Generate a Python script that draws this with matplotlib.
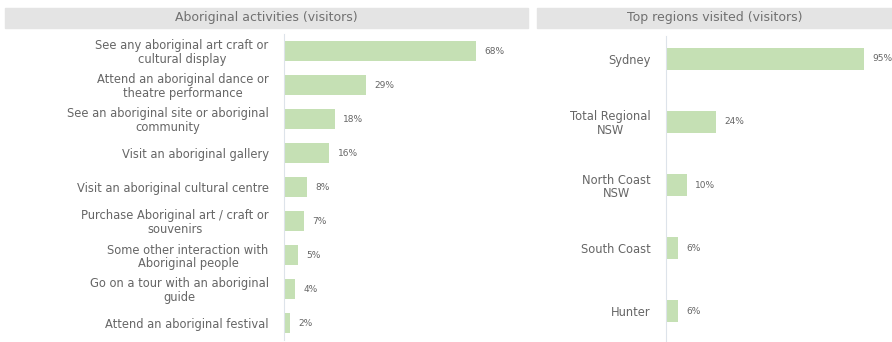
import matplotlib.pyplot as plt
from matplotlib.patches import Rectangle

# data
activities = ['See any aboriginal art craft or\ncultural display',
              'Attend an aboriginal dance or\ntheatre performance',
              'See an aboriginal site or aboriginal\ncommunity',
              'Visit an aboriginal gallery',
              'Visit an aboriginal cultural centre',
              'Purchase Aboriginal art / craft or\nsouvenirs',
              'Some other interaction with\nAboriginal people',
              'Go on a tour with an aboriginal\nguide',
              'Attend an aboriginal festival']
activity_pct = [68, 29, 18, 16, 8, 7, 5, 4, 2]

regions = ['Sydney', 'Total Regional\nNSW', 'North Coast\nNSW', 'South Coast', 'Hunter']
region_pct = [95, 24, 10, 6, 6]

left_title = 'Aboriginal activities (visitors)'
right_title = 'Top regions visited (visitors)'

bar_color = '#c5e0b4'
text_color = '#666666'
band_color = '#e4e4e4'
W, H = 892, 342

fig = plt.figure(figsize=(W / 100, H / 100), dpi=100)
plt.rcParams['font.family'] = ['DejaVu Sans']


def fx(px):
    return px / W


def fy(py):
    return 1 - py / H


# title bands
for x0, x1, title in [(5, 528, left_title), (537, 892, right_title)]:
    fig.patches.append(Rectangle((fx(x0), fy(28)), fx(x1 - x0), (28 - 8) / H,
                                 transform=fig.transFigure, color=band_color, zorder=0))
    fig.text(fx((x0 + x1) / 2), fy(18), title, ha='center', va='center',
             fontsize=9, color='#707070')


def draw(ax, labels, values, height, ylim, xlim):
    y = list(range(len(labels)))
    ax.barh(y, values, height=height, color=bar_color)
    for yi, v in zip(y, values):
        ax.annotate(f'{v}%', (v, yi), xytext=(6, 0), textcoords='offset points',
                    va='center', ha='left', fontsize=6.5, color=text_color)
    ax.set_yticks(y)
    ax.set_yticklabels(labels, fontsize=8.3, color=text_color, linespacing=1.05,
                       multialignment='center')
    ax.set_ylim(*ylim)
    ax.set_xlim(*xlim)
    ax.set_xticks([])
    for s in ['top', 'right', 'bottom']:
        ax.spines[s].set_visible(False)
    ax.spines['left'].set_color('#dde3ea')
    ax.tick_params(axis='y', length=0, pad=11)
    ax.set_facecolor('none')


# left panel
ax1 = fig.add_axes([fx(284), fy(340), fx(527 - 284), (340 - 34) / H])
draw(ax1, activities, activity_pct, 0.6, (8.5, -0.5), (0, 86))

# right panel
ax2 = fig.add_axes([fx(666), fy(341), fx(892 - 666), (341 - 36) / H])
draw(ax2, regions, region_pct, 0.34, (4.476, -0.365), (0, 108.6))

fig.savefig('out.png', dpi=100)
